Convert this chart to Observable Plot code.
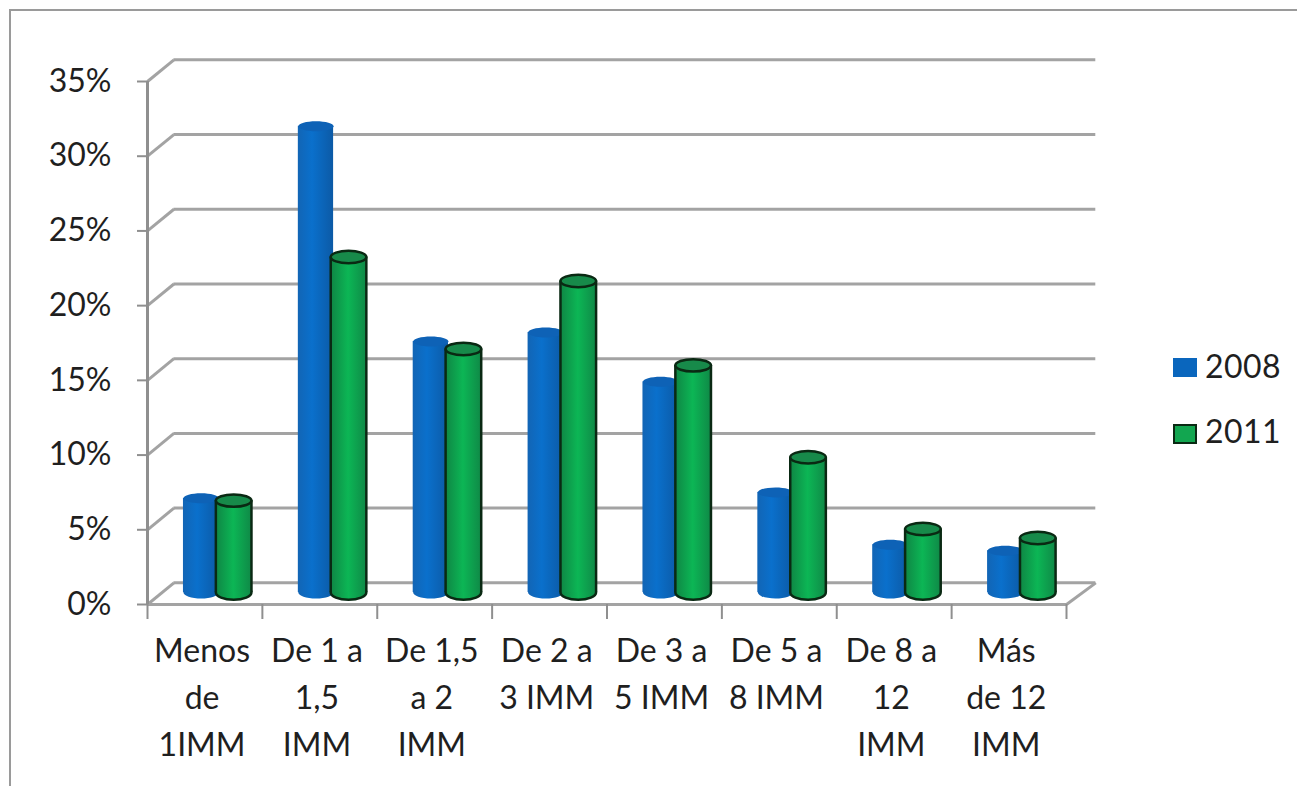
<!DOCTYPE html>
<html>
<head>
<meta charset="utf-8">
<script src="https://cdn.jsdelivr.net/npm/d3@7"></script>
<script src="https://cdn.jsdelivr.net/npm/@observablehq/plot@0.6"></script>
<style>
  html, body { margin: 0; padding: 0; background: #fff; overflow: hidden; }
  #wrap { position: relative; width: 1297px; height: 786px; }
  #frame { position: absolute; left: 9px; top: 9px; width: 1400px; height: 900px;
           border-top: 2.5px solid #9a9a9a; border-left: 2.5px solid #9a9a9a; pointer-events: none; }
  .sw { position: absolute; box-sizing: border-box; }
  .lg { position: absolute; left: 1205px; font: 32px Lato, sans-serif; color: #1f1f1f; line-height: 30px; letter-spacing: 0.4px; }
</style>
</head>
<body>
<div id="wrap"></div>
<script>
const categories = ["Menos\nde\n1IMM", "De 1 a\n1,5\nIMM", "De 1,5\na 2\nIMM", "De 2 a\n3 IMM",
                    "De 3 a\n5 IMM", "De 5 a\n8 IMM", "De 8 a\n12\nIMM", "Más\nde 12\nIMM"];
const values2008 = [6.3, 31.2, 16.8, 17.4, 14.1, 6.7, 3.2, 2.8];
const values2011 = [6.15, 22.45, 16.3, 20.85, 15.2, 9.05, 4.25, 3.65];
const yTicks = [0, 5, 10, 15, 20, 25, 30, 35];

const gray = "#a3a3a3";
const depthX = 0.23, depthX2 = 0.255, depthY = 1.45;   // wall depth of the pseudo-3D box, in scale units
const rows = (vals, x1, x2) => vals.map((v, i) => ({i, v, x1: i + x1, x2: i + x2, xc: i + (x1 + x2) / 2}));
const blue = rows(values2008, 0.313, 0.62);
const green = rows(values2011, 0.595, 0.905);

function ellipse(rx, ry) {
  const k = 0.5523;
  return {draw(c) {
    c.moveTo(-rx, 0);
    c.bezierCurveTo(-rx, -k * ry, -k * rx, -ry, 0, -ry);
    c.bezierCurveTo(k * rx, -ry, rx, -k * ry, rx, 0);
    c.bezierCurveTo(rx, k * ry, k * rx, ry, 0, ry);
    c.bezierCurveTo(-k * rx, ry, -rx, k * ry, -rx, 0);
    c.closePath();
  }};
}
function gradients() {
  const NS = "http://www.w3.org/2000/svg";
  const defs = document.createElementNS(NS, "defs");
  const add = (id, stops) => {
    const g = document.createElementNS(NS, "linearGradient");
    g.setAttribute("id", id);
    stops.forEach(([o, c]) => {
      const s = document.createElementNS(NS, "stop");
      s.setAttribute("offset", o); s.setAttribute("stop-color", c);
      g.appendChild(s);
    });
    defs.appendChild(g);
  };
  add("gBlue", [[0, "#1265b5"], [0.4, "#0a70cc"], [1, "#0c5aa6"]]);
  add("gGreen", [[0, "#0f8544"], [0.5, "#0cb655"], [1, "#0f8a47"]]);
  return defs;
}
const lift = -12;
function cylinder(data, fill, topFill, outline) {
  const sw = outline ? 2.5 : 0, st = outline || "none";
  const rx = outline ? 17.8 : 17.6, ry = outline ? 6.2 : 5;
  const marks = [
    Plot.dot(data, {x: "xc", y: () => 0, dy: lift, symbol: ellipse(rx, ry + 1), fill, stroke: st, strokeWidth: sw}),
    Plot.rectY(data, {x1: "x1", x2: "x2", y1: 0, y2: "v", dy: lift, fill}),
  ];
  if (outline) {
    marks.push(Plot.ruleX(data, {x: "x1", y1: 0, y2: "v", dy: lift, stroke: outline, strokeWidth: 2.5}));
    marks.push(Plot.ruleX(data, {x: "x2", y1: 0, y2: "v", dy: lift, stroke: outline, strokeWidth: 2.5}));
  }
  marks.push(Plot.dot(data, {x: "xc", y: "v", dy: lift, symbol: ellipse(rx, ry), fill: topFill, stroke: st, strokeWidth: sw}));
  return marks;
}

const chart = Plot.plot({
  width: 1297, height: 786,
  marginLeft: 147, marginRight: 231, marginTop: 81, marginBottom: 182,
  style: {fontFamily: "Lato, sans-serif", background: "transparent", overflow: "visible"},
  x: {domain: [0, 8]},
  y: {domain: [0, 35]},
  marks: [
    gradients,
    Plot.ruleY(yTicks, {x1: depthX, x2: 8 + depthX2, y: d => d + depthY, stroke: gray, strokeWidth: 3}),
    Plot.link(yTicks, {x1: 0, x2: depthX, y1: d => d, y2: d => d + depthY, stroke: gray, strokeWidth: 3}),
    Plot.link([0], {x1: 8, x2: 8 + depthX2, y1: 0, y2: depthY, stroke: gray, strokeWidth: 3}),
    Plot.ruleY([0], {x1: 0, x2: 8, stroke: gray, strokeWidth: 3}),
    Plot.ruleX([0], {y1: 0, y2: 35, stroke: "#8f8f8f", strokeWidth: 3}),
    Plot.axisY({ticks: yTicks, tickFormat: d => d + "%", tickSize: 10, tickPadding: 26, stroke: "#8f8f8f", strokeWidth: 2,
                fontSize: 32, fill: "#1f1f1f", label: null}),
    Plot.axisX({ticks: d3.range(9), tickFormat: () => "", tickSize: 15, stroke: "#8f8f8f", strokeWidth: 2, label: null}),
    Plot.axisX({ticks: categories.map((c, i) => i + 0.475), tickFormat: (d) => categories[Math.floor(d)], tickSize: 0,
                tickPadding: 24, fontSize: 32, lineHeight: 1.47, fill: "#1f1f1f", label: null}),
    ...cylinder(blue, "url(#gBlue)", "#0e62b6", null),
    ...cylinder(green, "url(#gGreen)", "#178a4a", "#0a2913"),
  ]
});

const wrap = document.getElementById("wrap");
wrap.appendChild(chart);
const frame = document.createElement("div"); frame.id = "frame"; wrap.appendChild(frame);
const legend = [["2008", 358, 19, "#0a66bd", "none", 351], ["2011", 424, 20, "#12a650", "2px solid #0a2913", 416]];
legend.forEach(([t, top, h, c, b, ty]) => {
  const s = document.createElement("div"); s.className = "sw";
  s.style.cssText = `left:1173px;top:${top}px;width:24px;height:${h}px;background:${c};border:${b};`;
  wrap.appendChild(s);
  const l = document.createElement("div"); l.className = "lg"; l.textContent = t; l.style.top = ty + "px";
  wrap.appendChild(l);
});
</script>
</body>
</html>
